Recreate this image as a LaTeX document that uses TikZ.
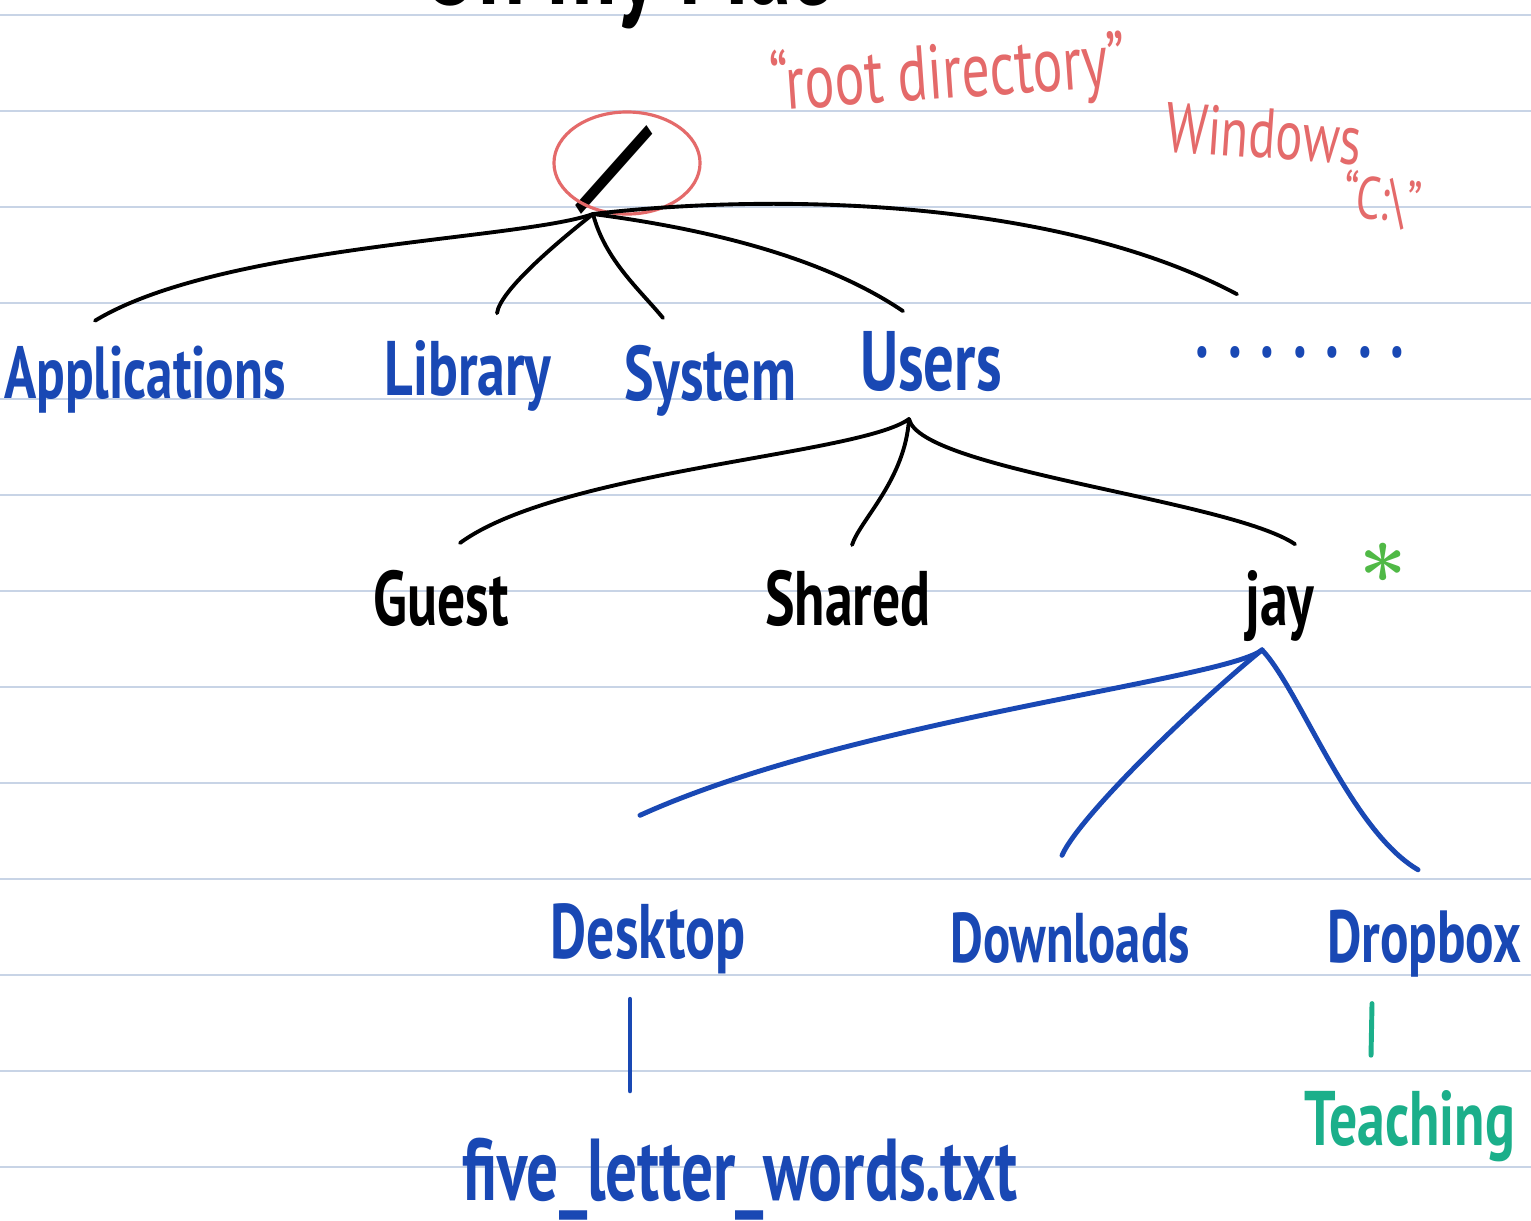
\documentclass[tikz,border=0pt]{standalone}
\usepackage{fontspec}
\newfontfamily\handfont{PT Sans}[FakeStretch=0.72]
\usetikzlibrary{calc,shapes.geometric}
\definecolor{inkblue}{RGB}{25,72,180}
\definecolor{inkred}{RGB}{228,106,106}
\definecolor{inkgreen}{RGB}{80,185,70}
\definecolor{inkteal}{RGB}{27,175,138}
\definecolor{paperline}{RGB}{200,212,230}
\tikzset{paper/.style={draw=paperline,line width=0.6pt}}

\begin{document}
\begin{tikzpicture}[x=0.01cm,y=-0.01cm,
  dir/.style={font=\handfont\bfseries\fontsize{22}{26}\selectfont,anchor=base,inner sep=6pt},
  blu/.style={dir,text=inkblue},
  note/.style={dir,text=inkred,font=\handfont\fontsize{20}{24}\selectfont},
  br/.style={line width=1.1pt,line cap=round},
  bbr/.style={br,draw=inkblue,line width=1.4pt}]
\useasboundingbox (0,0) rectangle (1531,1220);
\fill[white] (0,0) rectangle (1531,1220);
% ruled page
\foreach \k in {0,...,12}{\draw[paper] (0,15+96*\k) -- (1531,15+96*\k);}
% heading, cut off at the top edge
\node[dir,font=\handfont\bfseries\fontsize{34}{40}\selectfont] (title) at (625,4) {On my Mac};
% root
\node[font=\handfont\bfseries\fontsize{36}{36}\selectfont,rotate=-24,inner sep=0pt] (root) at (614,170) {/};
\node[draw=inkred,ellipse,line width=0.9pt,minimum width=1.46cm,minimum height=1.02cm] (ring) at ($(root)+(13,-7)$) {};
\node[note,rotate=4,font=\handfont\fontsize{22}{26}\selectfont] (rootnote) at (950,98) {“root directory”};
\node[note,rotate=-4] (win) at (1262,158) {Windows};
\node[note,rotate=-6,font=\handfont\fontsize{17}{20}\selectfont] (cdrive) at (1380,220) {“C:\textbackslash”};
% first level
\node[blu,font=\handfont\bfseries\fontsize{21}{26}\selectfont] (apps) at (145,398) {Applications};
\node[blu] (lib) at (468,395) {Library};
\node[blu] (sys) at (710,400) {System};
\node[blu,font=\handfont\bfseries\fontsize{24}{28}\selectfont] (users) at (931,390) {Users};
\node[blu] (more) at (1300,357) {. . . . . . .};
% inside Users
\node[dir] (guest) at (441,625) {Guest};
\node[dir] (shared) at (848,625) {Shared};
\node[dir] (jay) at (1280,625) {jay};
\node[text=inkgreen,font=\bfseries\fontsize{24}{24}\selectfont] (star) at (1383,575) {*};
% inside jay
\node[blu] (desk) at (648,958) {Desktop};
\node[blu,font=\handfont\bfseries\fontsize{20}{24}\selectfont] (down) at (1070,962) {Downloads};
\node[blu,font=\handfont\bfseries\fontsize{21}{26}\selectfont] (drop) at (1424,962) {Dropbox};
\node[blu,font=\handfont\bfseries\fontsize{25}{30}\selectfont] (file) at (740,1200) {five\_letter\_words.txt};
\node[dir,text=inkteal] (teach) at (1410,1145) {Teaching};
% branches
\draw[br] ($(root)+(-21,44)$) .. controls (520,240) and (220,245) .. ($(apps.north)+(-50,-3)$);
\draw[br] ($(root)+(-21,44)$) .. controls (560,240) and (500,290) .. ($(lib.north)+(29,-5)$);
\draw[br] ($(root)+(-21,44)$) .. controls (605,260) and (640,290) .. ($(sys.north)+(-47,-5)$);
\draw[br] ($(root)+(-21,44)$) .. controls (700,228) and (820,255) .. ($(users.north)+(-28,2)$);
\draw[br] ($(root)+(-21,44)$) .. controls (780,192) and (1060,200) .. ($(more.north)+(-63,-30)$);
\draw[br] ($(users.south)+(-22,6)$) .. controls (860,455) and (560,470) .. ($(guest.north)+(19,-5)$);
\draw[br] ($(users.south)+(-22,6)$) .. controls (905,480) and (860,520) .. ($(shared.north)+(4,-3)$);
\draw[br] ($(users.south)+(-22,6)$) .. controls (920,470) and (1230,500) .. ($(jay.north)+(15,-4)$);
\draw[bbr] ($(jay.south)+(-18,-13)$) .. controls (1225,680) and (850,720) .. ($(desk.north)+(-8,-66)$);
\draw[bbr] ($(jay.south)+(-18,-13)$) .. controls (1200,700) and (1080,815) .. ($(down.north)+(-8,-35)$);
\draw[bbr] ($(jay.south)+(-18,-13)$) .. controls (1300,690) and (1350,830) .. ($(drop.north)+(-6,-18)$);
\draw[bbr] ($(desk.south)+(-18,4)$) -- ($(file.north)+(-110,-25)$);
\draw[br,draw=inkteal,line width=1.4pt] ($(drop.south)+(-52,5)$) -- ($(teach.north)+(-39,-13)$);
\end{tikzpicture}
\end{document}
